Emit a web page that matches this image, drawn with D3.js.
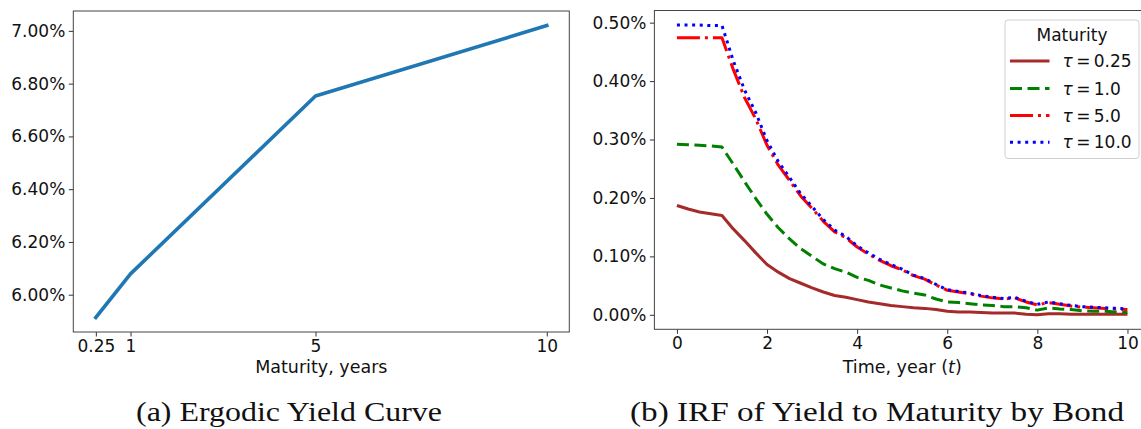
<!DOCTYPE html>
<html><head><meta charset="utf-8">
<script src="https://cdn.jsdelivr.net/npm/d3@7"></script>
<style>
html,body{margin:0;padding:0;background:#fff;}
svg{display:block;}
</style></head>
<body>
<svg id="chart" width="1141" height="429"></svg>
<script>
// ---------- Panel (a): ergodic yield curve ----------
const maturities = [0.25, 1, 5, 10];
const ergodicYield = [5.914, 6.079, 6.753, 7.020];   // percent
const maturityTicks = [0.25, 1, 5, 10];
const maturityTickLabels = ["0.25", "1", "5", "10"];
const yieldTicks = [6.0, 6.2, 6.4, 6.6, 6.8, 7.0];

// ---------- Panel (b): IRF of yield to maturity ----------
const timeYears = [0,0.25,0.5,0.75,1,1.25,1.5,1.75,2,2.25,2.5,2.75,3,3.25,3.5,3.75,4,4.25,4.5,4.75,5,
  5.25,5.5,5.75,6,6.25,6.5,6.75,7,7.25,7.5,7.75,8,8.25,8.5,8.75,9,9.25,9.5,9.75,10];
const irfTau025 = [0.187,0.181,0.176,0.173,0.170,0.147,0.127,0.106,0.086,0.073,0.062,0.054,0.046,0.039,0.033,0.030,
  0.026,0.022,0.019,0.016,0.014,0.012,0.011,0.009,0.006,0.005,0.005,0.004,0.003,0.003,0.003,0.001,0.000,0.002,0.002,
  0.001,0.001,0.001,0.001,0.001,0.001];
const irfTau1 = [0.292,0.291,0.290,0.289,0.287,0.258,0.228,0.199,0.172,0.149,0.130,0.113,0.100,0.087,0.079,0.073,
  0.064,0.059,0.051,0.046,0.041,0.037,0.034,0.027,0.022,0.021,0.019,0.017,0.016,0.014,0.014,0.012,0.008,0.012,0.010,
  0.009,0.007,0.006,0.006,0.005,0.004];
const irfTau5 = [0.474,0.474,0.474,0.474,0.474,0.420,0.372,0.335,0.290,0.256,0.230,0.203,0.182,0.160,0.142,0.132,
  0.116,0.104,0.093,0.084,0.077,0.067,0.061,0.051,0.042,0.039,0.036,0.032,0.029,0.027,0.029,0.022,0.017,0.021,0.018,
  0.015,0.013,0.012,0.011,0.010,0.009];
const irfTau10 = [0.496,0.496,0.496,0.495,0.495,0.435,0.385,0.346,0.298,0.262,0.235,0.207,0.185,0.163,0.145,0.134,
  0.118,0.106,0.095,0.086,0.078,0.068,0.062,0.052,0.043,0.040,0.037,0.033,0.030,0.028,0.030,0.023,0.018,0.022,0.019,
  0.016,0.014,0.013,0.012,0.011,0.010];
const seriesLabelsNum = ["0.25", "1.0", "5.0", "10.0"];
const timeTicks = [0, 2, 4, 6, 8, 10];
const irfTicks = [0, 0.1, 0.2, 0.3, 0.4, 0.5];

const FONT = "DejaVu Sans";
const svg = d3.select("#chart");
svg.append("rect").attr("width", 1141).attr("height", 429).attr("fill", "#fff");

function padDomain(ext) { const p = (ext[1] - ext[0]) * 0.05; return [ext[0] - p, ext[1] + p]; }

function styleAxis(g) {
  g.select(".domain").remove();
  g.selectAll(".tick line").attr("stroke", "#333").attr("stroke-width", 1);
  g.selectAll(".tick text").attr("font-family", FONT).attr("font-size", 17).attr("fill", "#111");
}

// ===== Panel (a) =====
const A = {left: 73.3, right: 569.3, top: 11, bottom: 332};
const xA = d3.scaleLinear().domain(padDomain(d3.extent(maturities))).range([A.left, A.right]);
const yA = d3.scaleLinear().domain(padDomain(d3.extent(ergodicYield))).range([A.bottom, A.top]);

const gA = svg.append("g");
gA.append("g").attr("transform", `translate(0,${A.bottom})`)
  .call(d3.axisBottom(xA).tickValues(maturityTicks).tickSize(4.5).tickPadding(3.5)
    .tickFormat((d, i) => maturityTickLabels[i])).call(styleAxis);
gA.append("g").attr("transform", `translate(${A.left},0)`)
  .call(d3.axisLeft(yA).tickValues(yieldTicks).tickSize(4.5).tickPadding(3.5)
    .tickFormat(d => d.toFixed(2) + "%")).call(styleAxis);
gA.append("path")
  .datum(maturities.map((m, i) => [m, ergodicYield[i]]))
  .attr("fill", "none").attr("stroke", "#1f77b4").attr("stroke-width", 3.6)
  .attr("stroke-linecap", "square").attr("stroke-linejoin", "round")
  .attr("d", d3.line().x(d => xA(d[0])).y(d => yA(d[1])));
gA.append("rect").attr("x", A.left).attr("y", A.top).attr("width", A.right - A.left).attr("height", A.bottom - A.top)
  .attr("fill", "none").attr("stroke", "#444").attr("stroke-width", 1);
gA.append("text").attr("x", (A.left + A.right) / 2).attr("y", 373).attr("text-anchor", "middle")
  .attr("font-family", FONT).attr("font-size", 17.5).attr("fill", "#111").text("Maturity, years");

// ===== Panel (b) =====
const B = {left: 654.4, right: 1150, top: 10.5, bottom: 329.3};
const allIrf = irfTau025.concat(irfTau1, irfTau5, irfTau10);
const xB = d3.scaleLinear().domain(padDomain(d3.extent(timeYears))).range([B.left, B.right]);
const yB = d3.scaleLinear().domain(padDomain(d3.extent(allIrf))).range([B.bottom, B.top]);

const gB = svg.append("g");
gB.append("g").attr("transform", `translate(0,${B.bottom})`)
  .call(d3.axisBottom(xB).tickValues(timeTicks).tickSize(4.5).tickPadding(3.5).tickFormat(d3.format("d")))
  .call(styleAxis);
gB.append("g").attr("transform", `translate(${B.left},0)`)
  .call(d3.axisLeft(yB).tickValues(irfTicks).tickSize(4.5).tickPadding(3.5)
    .tickFormat(d => d.toFixed(2) + "%")).call(styleAxis);

const styles = [
  {color: "#a52a2a", dash: null},
  {color: "#008000", dash: "12,5.5"},
  {color: "#ff0000", dash: "23,5,3,5"},
  {color: "#0000ff", dash: "3,4.6"}
];
const allSeries = [irfTau025, irfTau1, irfTau5, irfTau10];
const lineB = d3.line().x(d => xB(d[0])).y(d => yB(d[1]));
allSeries.forEach((s, k) => {
  gB.append("path").datum(timeYears.map((t, i) => [t, s[i]]))
    .attr("fill", "none").attr("stroke", styles[k].color).attr("stroke-width", 3)
    .attr("stroke-linejoin", "round")
    .attr("stroke-dasharray", styles[k].dash)
    .attr("d", lineB);
});
gB.append("rect").attr("x", B.left).attr("y", B.top).attr("width", B.right - B.left).attr("height", B.bottom - B.top)
  .attr("fill", "none").attr("stroke", "#444").attr("stroke-width", 1);
const xl = gB.append("text").attr("x", (B.left + B.right) / 2).attr("y", 373).attr("text-anchor", "middle")
  .attr("font-family", FONT).attr("font-size", 17.5).attr("fill", "#111");
xl.append("tspan").text("Time, year (");
xl.append("tspan").attr("font-style", "italic").text("t");
xl.append("tspan").text(")");

// Legend
const L = {x: 1005, y: 20, w: 134, h: 138.5};
const gL = svg.append("g");
gL.append("rect").attr("x", L.x).attr("y", L.y).attr("width", L.w).attr("height", L.h).attr("rx", 3)
  .attr("fill", "#fff").attr("fill-opacity", 0.8).attr("stroke", "#d0d0d0").attr("stroke-width", 1);
gL.append("text").attr("x", L.x + L.w / 2).attr("y", 41).attr("text-anchor", "middle")
  .attr("font-family", FONT).attr("font-size", 17).attr("fill", "#111").text("Maturity");
const rowY = [61, 88.5, 115.5, 142.3];
seriesLabelsNum.forEach((lab, k) => {
  gL.append("line").attr("x1", 1010).attr("x2", 1049.5).attr("y1", rowY[k]).attr("y2", rowY[k])
    .attr("stroke", styles[k].color).attr("stroke-width", 3).attr("stroke-dasharray", styles[k].dash);
  const t = gL.append("text").attr("x", 1062.5).attr("y", rowY[k] + 6)
    .attr("font-family", FONT).attr("font-size", 17).attr("fill", "#111");
  t.append("tspan").attr("font-style", "italic").text("\u03c4");
  t.append("tspan").text("\u2009=\u2009" + lab);
});

// Captions
svg.append("text").attr("x", 136).attr("y", 421).attr("font-family", "Liberation Serif").attr("font-size", 26.5)
  .attr("fill", "#111").attr("textLength", 306).attr("lengthAdjust", "spacingAndGlyphs")
  .text("(a) Ergodic Yield Curve");
svg.append("text").attr("x", 630).attr("y", 421).attr("font-family", "Liberation Serif").attr("font-size", 26.5)
  .attr("fill", "#111").attr("textLength", 494).attr("lengthAdjust", "spacingAndGlyphs")
  .text("(b) IRF of Yield to Maturity by Bond");
</script>
</body></html>
